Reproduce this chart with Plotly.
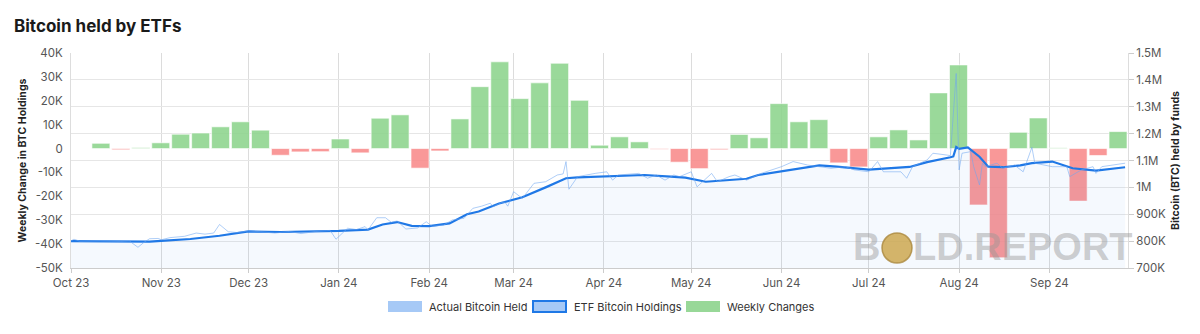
import plotly.graph_objects as go

# ---------------- data ----------------
week_labels = [
    "2023-09-29", "2023-10-06", "2023-10-12", "2023-10-19", "2023-10-26", "2023-11-02",
    "2023-11-09", "2023-11-16", "2023-11-23", "2023-11-30", "2023-12-07", "2023-12-14",
    "2023-12-21", "2023-12-28", "2024-01-04", "2024-01-11", "2024-01-18", "2024-01-25",
    "2024-02-01", "2024-02-08", "2024-02-14", "2024-02-21", "2024-02-28", "2024-03-06",
    "2024-03-13", "2024-03-20", "2024-03-27", "2024-04-03", "2024-04-10", "2024-04-17",
    "2024-04-24", "2024-05-01", "2024-05-08", "2024-05-15", "2024-05-22", "2024-05-29",
    "2024-06-05", "2024-06-11", "2024-06-18", "2024-06-25", "2024-07-02", "2024-07-09",
    "2024-07-16", "2024-07-23", "2024-07-30", "2024-08-06", "2024-08-13", "2024-08-20",
    "2024-08-27", "2024-09-03", "2024-09-10", "2024-09-17", "2024-09-24",
]
weekly_changes = [
    0, 2200, -500, 400, 2400, 6000, 6500, 9100, 11200, 7700, -2800, -1400,
    -1300, 4000, -1800, 12700, 14100, -8200, -1000, 12400, 25900, 36300, 20900, 27500,
    35700, 20200, 1400, 4900, 2800, -300, -5700, -8400, -500, 5900, 4500, 18800,
    11200, 12100, -6000, -7700, 4900, 7800, 3600, 23300, 35000, -23600, -45700, 6800,
    12800, 300, -22000, -2900, 7100,
]

etf_dates = [
    "2023-10-01", "2023-10-11", "2023-10-21", "2023-10-28", "2023-11-01", "2023-11-11",
    "2023-11-21", "2023-12-01", "2023-12-12", "2023-12-22", "2024-01-01", "2024-01-11",
    "2024-01-16", "2024-01-21", "2024-01-26", "2024-02-01", "2024-02-08", "2024-02-14",
    "2024-02-18", "2024-02-25", "2024-02-29", "2024-03-04", "2024-03-12", "2024-03-19",
    "2024-03-23", "2024-04-03", "2024-04-15", "2024-04-24", "2024-04-29", "2024-05-06",
    "2024-05-13", "2024-05-20", "2024-05-24", "2024-06-01", "2024-06-09", "2024-06-14",
    "2024-06-20", "2024-07-01", "2024-07-15", "2024-07-21", "2024-07-29", "2024-07-30",
    "2024-07-31", "2024-08-01", "2024-08-04", "2024-08-08", "2024-08-11", "2024-08-16",
    "2024-08-22", "2024-08-26", "2024-09-02", "2024-09-09", "2024-09-17", "2024-09-21",
    "2024-09-27",
]
etf_holdings = [
    800000, 800000, 799000, 798000, 801000, 808000,
    820000, 836000, 834000, 836000, 838000, 843000,
    862000, 871000, 857000, 856000, 866000, 900000,
    910000, 940000, 952000, 963000, 1000000, 1034000,
    1037000, 1042000, 1046000, 1040000, 1036000, 1021000,
    1027000, 1032000, 1046000, 1060000, 1075000, 1082000,
    1077000, 1066000, 1076000, 1094000, 1112000, 1115000,
    1150000, 1143000, 1149000, 1114000, 1077000, 1075000,
    1082000, 1090000, 1096000, 1071000, 1062000, 1068000,
    1075000,
]

actual_dates = [
    "2023-10-01", "2023-10-02", "2023-10-04", "2023-10-11", "2023-10-18", "2023-10-21",
    "2023-10-24", "2023-10-26", "2023-10-28", "2023-10-31", "2023-11-01", "2023-11-04",
    "2023-11-09", "2023-11-13", "2023-11-16", "2023-11-19", "2023-11-21", "2023-11-24",
    "2023-11-27", "2023-12-01", "2023-12-05", "2023-12-10", "2023-12-15", "2023-12-19",
    "2023-12-24", "2023-12-29", "2023-12-31", "2024-01-04", "2024-01-07", "2024-01-10",
    "2024-01-11", "2024-01-14", "2024-01-17", "2024-01-19", "2024-01-21", "2024-01-24",
    "2024-01-28", "2024-01-31", "2024-02-02", "2024-02-06", "2024-02-09", "2024-02-13",
    "2024-02-16", "2024-02-19", "2024-02-22", "2024-02-23", "2024-02-26", "2024-02-27",
    "2024-02-28", "2024-03-01", "2024-03-04", "2024-03-08", "2024-03-12", "2024-03-16",
    "2024-03-18", "2024-03-19", "2024-03-20", "2024-03-23", "2024-03-29", "2024-04-02",
    "2024-04-04", "2024-04-06", "2024-04-13", "2024-04-16", "2024-04-19", "2024-04-22",
    "2024-04-25", "2024-04-27", "2024-05-01", "2024-05-03", "2024-05-08", "2024-05-10",
    "2024-05-14", "2024-05-16", "2024-05-20", "2024-05-25", "2024-06-01", "2024-06-05",
    "2024-06-10", "2024-06-14", "2024-06-18", "2024-06-23", "2024-06-26", "2024-07-01",
    "2024-07-04", "2024-07-06", "2024-07-12", "2024-07-14", "2024-07-16", "2024-07-21",
    "2024-07-23", "2024-07-28", "2024-07-29", "2024-07-31", "2024-08-01", "2024-08-02",
    "2024-08-05", "2024-08-06", "2024-08-08", "2024-08-09", "2024-08-10", "2024-08-14",
    "2024-08-16", "2024-08-20", "2024-08-23", "2024-08-26", "2024-08-27", "2024-09-02",
    "2024-09-07", "2024-09-08", "2024-09-12", "2024-09-16", "2024-09-17", "2024-09-19",
    "2024-09-23", "2024-09-27",
]
actual_held = [
    801000, 807000, 800000, 801000, 799000, 801000,
    777000, 795000, 809000, 810000, 805000, 813000,
    818000, 830000, 826000, 830000, 862000, 835000,
    832000, 838000, 835000, 830000, 836000, 828000,
    836000, 840000, 807000, 848000, 843000, 854000,
    842000, 887000, 887000, 870000, 875000, 845000,
    849000, 872000, 855000, 860000, 879000, 885000,
    922000, 930000, 941000, 928000, 944000, 945000,
    930000, 984000, 959000, 1015000, 1021000, 1046000,
    1050000, 1096000, 993000, 1040000, 1052000, 1058000,
    1027000, 1046000, 1052000, 1034000, 1046000, 1027000,
    1046000, 1040000, 1058000, 1002000, 1052000, 1021000,
    1040000, 1046000, 1027000, 1052000, 1077000, 1096000,
    1083000, 1077000, 1071000, 1077000, 1065000, 1058000,
    1096000, 1058000, 1058000, 1034000, 1077000, 1102000,
    1127000, 1120000, 1118000, 1424000, 1065000, 1127000,
    1133000, 1077000, 1009000, 1090000, 1077000, 1090000,
    1071000, 1083000, 1058000, 1149000, 1090000, 1077000,
    1077000, 1040000, 1065000, 1077000, 1052000, 1077000,
    1083000, 1090000,
]

left_tickvals = [40000, 30000, 20000, 10000, 0, -10000, -20000, -30000, -40000, -50000]
left_ticktext = ["40K", "30K", "20K", "10K", "0", "-10K", "-20K", "-30K", "-40K", "-50K"]
right_tickvals = [1500000, 1400000, 1300000, 1200000, 1100000, 1000000, 900000, 800000, 700000]
right_ticktext = ["1.5M", "1.4M", "1.3M", "1.2M", "1.1M", "1M", "900K", "800K", "700K"]

legend_names = ["Actual Bitcoin Held", "ETF Bitcoin Holdings", "Weekly Changes"]

# ---------------- styles ----------------
GREEN = "rgba(140,212,140,0.88)"
RED = "rgba(248,138,138,0.88)"
BLUE = "#1f78e6"
THIN = "rgba(110,165,240,0.55)"
TXT = "#555555"

bar_colors = [GREEN if v >= 0 else RED for v in weekly_changes]

fig = go.Figure()

# weekly columns on a hidden category axis (xaxis), left value axis
fig.add_trace(go.Bar(
    x=week_labels, y=weekly_changes, width=0.9,
    marker=dict(color=bar_colors, line=dict(color="rgba(255,255,255,0.6)", width=1)),
    name=legend_names[2], showlegend=False, xaxis="x", yaxis="y",
))

# holdings lines on the date axis (xaxis2), right value axis
fig.add_trace(go.Scatter(
    x=etf_dates, y=etf_holdings, mode="lines", name=legend_names[1],
    line=dict(color=BLUE, width=2.2), fill="tozeroy", fillcolor="rgba(31,120,230,0.045)",
    showlegend=False, xaxis="x2", yaxis="y2",
))
fig.add_trace(go.Scatter(
    x=actual_dates, y=actual_held, mode="lines", name=legend_names[0],
    line=dict(color=THIN, width=1), showlegend=False, xaxis="x2", yaxis="y2",
))

fig.update_layout(
    width=1200, height=334,
    margin=dict(l=71, r=72, t=53, b=66),
    paper_bgcolor="white", plot_bgcolor="white",
    barmode="overlay", showlegend=False,
    font=dict(family="Inter", size=11, color=TXT),
    title=dict(text="<b>Bitcoin held by ETFs</b>", x=14 / 1200, xref="container",
               xanchor="left", y=1 - 26 / 334, yref="container", yanchor="middle",
               font=dict(family="Inter", size=17, color="#1a1a1a")),
    xaxis=dict(type="category", range=[-0.5, len(week_labels) - 0.5], visible=False,
               showgrid=False),
    xaxis2=dict(
        type="date", range=["2023-10-01", "2024-09-28"], dtick="M1", tick0="2023-10-01",
        tickformat="%b %y", showgrid=True, gridcolor="#dcdcdc", gridwidth=1,
        overlaying="x", side="bottom", anchor="y",
        showline=True, linecolor="#cccccc", ticks="outside", ticklen=4, tickcolor="#cccccc",
        tickfont=dict(size=11.5, color=TXT), zeroline=False,
    ),
    yaxis=dict(
        range=[-50000, 40000], tickvals=left_tickvals, ticktext=left_ticktext,
        showgrid=False, zeroline=False, showline=True, linecolor="#dddddd",
        tickfont=dict(size=11.5, color=TXT), ticklabelstandoff=5, anchor="x",
        title=dict(text="<b>Weekly Change in BTC Holdings</b>", standoff=6,
                   font=dict(size=10.5, color="#222222")),
    ),
    yaxis2=dict(
        range=[700000, 1500000], tickvals=right_tickvals, ticktext=right_ticktext,
        overlaying="y", side="right", anchor="x2", showgrid=True, gridcolor="#e6e6e6",
        zeroline=False, showline=True, linecolor="#dddddd", ticks="outside", ticklen=5,
        tickcolor="#cccccc", tickfont=dict(size=11.5, color=TXT),
        title=dict(text="<b>Bitcoin (BTC) held by funds</b>", standoff=6,
                   font=dict(size=10.5, color="#222222")),
    ),
)

# ---- legend (drawn below the plot, Highcharts-style wide swatches) ----
def px_x(px):
    return (px - 71) / 1057


def px_y(py):
    return (268 - py) / 215


swatches = [
    (388, 422, "#a6c9f6", "rgba(0,0,0,0)", 0, 428),
    (533, 566, "#a6c9f6", BLUE, 2, 573),
    (686, 720, "#98d898", "rgba(0,0,0,0)", 0, 726),
]
for (x0, x1, fc, lc, lw, tx), name in zip(swatches, legend_names):
    fig.add_shape(type="rect", xref="paper", yref="paper",
                  x0=px_x(x0), x1=px_x(x1), y0=px_y(312), y1=px_y(301),
                  fillcolor=fc, line=dict(color=lc, width=lw), layer="above")
    fig.add_annotation(text=name, xref="paper", yref="paper", x=px_x(tx), y=px_y(306.5),
                       xanchor="left", yanchor="middle", showarrow=False, borderpad=0,
                       font=dict(family="Inter", size=11, color="#333333"))

# ---- watermark ----
WM = "rgba(150,150,150,0.45)"
fig.add_annotation(text="<b>B</b>", xref="paper", yref="paper", x=px_x(882),
                   y=px_y(247), xanchor="right", yanchor="middle", showarrow=False,
                   font=dict(family="Liberation Sans", size=38, color=WM))
fig.add_annotation(text="<b>LD.REPORT</b>", xref="paper", yref="paper", x=px_x(911),
                   y=px_y(247), xanchor="left", yanchor="middle", showarrow=False,
                   font=dict(family="Liberation Sans", size=38, color=WM))
fig.add_shape(type="circle", xref="paper", yref="paper", xsizemode="pixel", ysizemode="pixel",
              xanchor=px_x(897), yanchor=px_y(248), x0=-15, x1=15, y0=-15, y1=15,
              fillcolor="rgba(205,168,80,0.85)", line=dict(color="rgba(170,135,60,0.8)", width=1.5))

fig.write_html("out.html")
